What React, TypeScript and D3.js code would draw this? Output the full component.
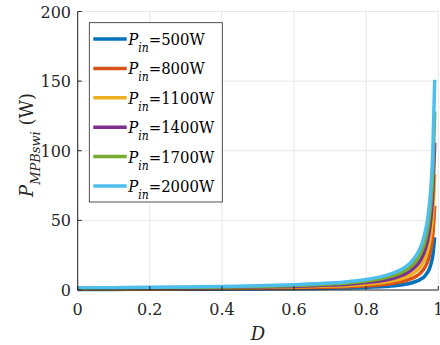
import React from 'react';
import * as d3 from 'd3';

// duty cycle samples
const dutyCycle = [0, 0.1, 0.2, 0.3, 0.4, 0.5, 0.6, 0.7, 0.75, 0.8, 0.85, 0.88, 0.9, 0.92, 0.94, 0.95, 0.96, 0.97, 0.975, 0.98, 0.985, 0.99];

const p500 = [0.4, 0.4, 0.5, 0.5, 0.6, 0.8, 0.9, 1.3, 1.5, 1.9, 2.5, 3.1, 3.8, 4.7, 6.3, 7.6, 9.4, 12.6, 15.1, 18.9, 25.2, 37.8];
const p800 = [0.6, 0.7, 0.8, 0.9, 1.0, 1.2, 1.5, 2.0, 2.4, 3.0, 4.0, 5.0, 6.0, 7.6, 10.1, 12.1, 15.1, 20.1, 24.2, 30.2, 40.3, 60.4];
const p1100 = [0.8, 0.9, 1.0, 1.2, 1.4, 1.7, 2.1, 2.8, 3.3, 4.2, 5.5, 6.9, 8.3, 10.4, 13.8, 16.6, 20.8, 27.7, 33.2, 41.5, 55.4, 83.1];
const p1400 = [1.1, 1.2, 1.3, 1.5, 1.8, 2.1, 2.6, 3.5, 4.2, 5.3, 7.0, 8.8, 10.6, 13.2, 17.6, 21.1, 26.4, 35.2, 42.3, 52.8, 70.5, 105.7];
const p1700 = [1.3, 1.4, 1.6, 1.8, 2.1, 2.6, 3.2, 4.3, 5.1, 6.4, 8.6, 10.7, 12.8, 16.0, 21.4, 25.7, 32.1, 42.8, 51.3, 64.2, 85.5, 128.3];
const p2000 = [1.5, 1.7, 1.9, 2.2, 2.5, 3.0, 3.8, 5.0, 6.0, 7.5, 10.1, 12.6, 15.1, 18.9, 25.2, 30.2, 37.8, 50.3, 60.4, 75.5, 100.7, 151.0];

const powerLabels = ['500W', '800W', '1100W', '1400W', '1700W', '2000W'];
const seriesValues = [p500, p800, p1100, p1400, p1700, p2000];
const colors = ['#0072BD', '#D95319', '#EDB120', '#7E2F8E', '#77AC30', '#4DBEEE'];

const xTicks = [0, 0.2, 0.4, 0.6, 0.8, 1];
const yTicks = [0, 50, 100, 150, 200];

const W = 440;
const H = 345;
// only serif face that is installed here
const font = 'DejaVu Serif';
const ink = '#262626';

export default function App() {
  const x = d3.scaleLinear().domain([0, 1]).range([77.7, 438.3]);
  const y = d3.scaleLinear().domain([0, 200]).range([290, 11.5]);

  const line = d3.line<[number, number]>()
    .x(d => x(d[0]))
    .y(d => y(d[1]))
    .curve(d3.curveMonotoneX);

  const legendX = 89.3;
  const legendY = 22.7;
  const rowH = 29.4;

  return (
    <svg width={W} height={H} viewBox={`0 0 ${W} ${H}`}
      style={{ position: 'absolute', left: 0, top: 0, background: '#fff' }}>
      {/* grid */}
      {xTicks.map(t => (
        <line key={'gx' + t} x1={x(t)} x2={x(t)} y1={y(0)} y2={y(200)} stroke="#e6e6e6" strokeWidth={1} />
      ))}
      {yTicks.map(t => (
        <line key={'gy' + t} x1={x(0)} x2={x(1)} y1={y(t)} y2={y(t)} stroke="#e6e6e6" strokeWidth={1} />
      ))}

      {/* curves */}
      {seriesValues.map((vals, i) => (
        <path key={powerLabels[i]}
          d={line(dutyCycle.map((d, j) => [d, vals[j]] as [number, number])) || ''}
          fill="none" stroke={colors[i]} strokeWidth={3.5} />
      ))}

      {/* axes */}
      <line x1={x(0)} x2={x(0)} y1={y(0)} y2={y(200)} stroke={ink} strokeWidth={1} />
      <line x1={x(0)} x2={x(1)} y1={y(0)} y2={y(0)} stroke={ink} strokeWidth={1} />
      {xTicks.map(t => (
        <g key={'tx' + t}>
          <line x1={x(t)} x2={x(t)} y1={y(0)} y2={y(0) - 4} stroke={ink} />
          <text x={x(t)} y={315} textAnchor="middle" fontFamily={font} fontSize={16} fill={ink}>{t}</text>
        </g>
      ))}
      {yTicks.map(t => (
        <g key={'ty' + t}>
          <line x1={x(0)} x2={x(0) + 4} y1={y(t)} y2={y(t)} stroke={ink} />
          <text x={71} y={y(t) + 6} textAnchor="end" fontFamily={font} fontSize={16} fill={ink}>{t}</text>
        </g>
      ))}

      {/* axis labels */}
      <text x={x(0.5)} y={340} textAnchor="middle" fontFamily={font} fontSize={18} fontStyle="italic" fill={ink}>D</text>
      <text transform="translate(33,145) rotate(-90)" textAnchor="middle" fontFamily={font} fontSize={18} fill={ink}>
        <tspan fontStyle="italic">P</tspan>
        <tspan fontStyle="italic" fontSize={13} dy={7}>MPBswi</tspan>
        <tspan dy={-7}> (W)</tspan>
      </text>

      {/* legend */}
      <rect x={legendX} y={legendY} width={133} height={179.3} fill="#fff" stroke={ink} strokeWidth={0.8} />
      {powerLabels.map((lab, i) => {
        const cy = 39 + i * rowH;
        return (
          <g key={'lg' + lab}>
            <line x1={93.3} x2={126.7} y1={cy} y2={cy} stroke={colors[i]} strokeWidth={3.5} />
            <g transform={`translate(128.3,${cy + 6}) scale(0.9,1)`}>
              <text x={0} y={0} fontFamily={font} fontSize={16.5} fill="#000">
                <tspan fontStyle="italic">P</tspan>
                <tspan fontStyle="italic" fontSize={12} dy={7}>in</tspan>
                <tspan dy={-7}>={lab}</tspan>
              </text>
            </g>
          </g>
        );
      })}
    </svg>
  );
}
